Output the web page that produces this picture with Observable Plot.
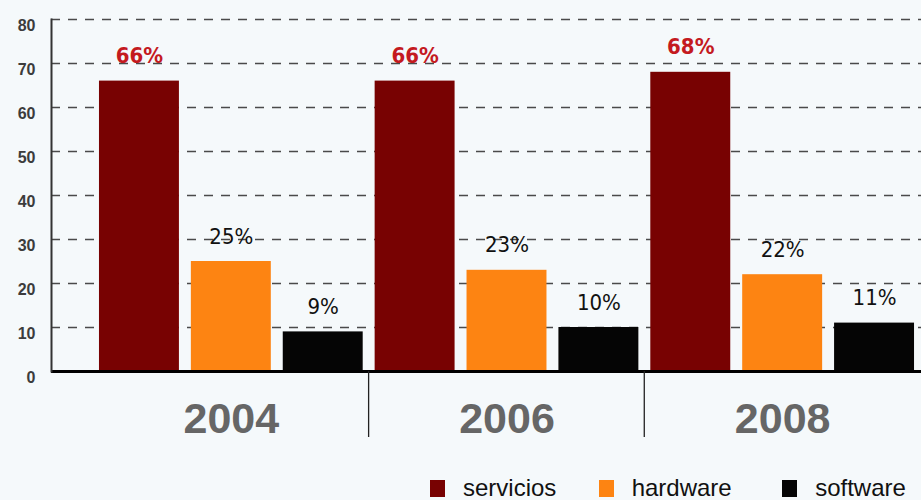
<!DOCTYPE html>
<html><head><meta charset="utf-8">
<script src="https://cdn.jsdelivr.net/npm/d3@7"></script>
<script src="https://cdn.jsdelivr.net/npm/@observablehq/plot@0.6"></script>
<style>
html,body{margin:0;padding:0;background:#f5f9fb;width:921px;height:500px;overflow:hidden;font-family:"Liberation Sans",Arial,sans-serif;}
#chart svg{background:transparent;display:block;}
#legend{display:flex;padding-left:430px;padding-top:16px;height:24px;white-space:nowrap;}
.item{display:flex;align-items:center;font-size:24px;color:#111;line-height:24px;}
.sw{width:15px;height:17px;margin-right:18px;flex:none;}
</style></head><body><div id="chart"></div><div id="legend"></div>
<script>
const years = ["2004", "2006", "2008"];
const categories = ["servicios", "hardware", "software"];
const servicios = [66, 66, 68];
const hardware = [25, 23, 22];
const software = [9, 10, 11];
const yTicks = [0, 10, 20, 30, 40, 50, 60, 70, 80];
const colors = ["#780202", "#fd8412", "#050505"];

const series = {servicios, hardware, software};
const rows = [];
years.forEach((year, i) => {
  categories.forEach(cat => {
    rows.push({key: year + " " + cat, year, cat, value: series[cat][i]});
  });
});
const keys = rows.map(d => d.key);

const chart = Plot.plot({
  width: 921,
  height: 460,
  marginTop: 19,
  marginBottom: 89,
  marginLeft: 51,
  marginRight: 0,
  style: {background: "transparent", fontFamily: "'Liberation Sans', Arial, sans-serif"},
  x: {domain: keys, range: [93, 920], paddingInner: 0.13, paddingOuter: 0.065, round: false, axis: null},
  y: {domain: [0, 80], axis: null},
  color: {domain: categories, range: colors},
  marks: [
    Plot.ruleY(yTicks.filter(t => t > 0), {stroke: "#4a4a4a", strokeWidth: 1.3, strokeDasharray: "9,8"}),
    Plot.barY(rows, {x: "key", y: "value", fill: "cat"}),
    Plot.text(rows.filter(d => d.cat === "servicios"), {
      x: "key", y: "value", text: d => d.value + "%", dy: -25,
      fill: "#c41a1f", fontSize: 22, fontWeight: "bold",
      fontFamily: "'DejaVu Sans Condensed', 'DejaVu Sans', sans-serif"
    }),
    Plot.text(rows.filter(d => d.cat !== "servicios"), {
      x: "key", y: "value", text: d => d.value + "%", dy: -25,
      fill: "#111", fontSize: 22,
      fontFamily: "'DejaVu Sans Condensed', 'DejaVu Sans', sans-serif"
    }),
    Plot.ruleY([0], {stroke: "#000", strokeWidth: 3}),
    Plot.frame({anchor: "left", stroke: "#333", strokeWidth: 2}),
    Plot.ruleX(years.slice(1).map(y => y + " servicios"), {y1: 0, y2: -15, dx: -46.5, stroke: "#222", strokeWidth: 1.3}),
    Plot.text(years, {
      x: d => d + " hardware", y: () => 0, text: d => d, dy: 48,
      fontSize: 43, fontWeight: "bold", fill: "#666"
    }),
    Plot.axisY(yTicks, {label: null, tickSize: 0, tickPadding: 16, dy: 6, fontSize: 16, fontWeight: 600, fill: "#3c3c3c"})
  ]
});
document.getElementById("chart").appendChild(chart);

const legend = document.getElementById("legend");
const widths = [170, 185, 140];
categories.forEach((cat, i) => {
  const item = document.createElement("div");
  item.className = "item";
  item.style.width = widths[i] + "px";
  const sw = document.createElement("span");
  sw.className = "sw";
  sw.style.background = colors[i];
  const label = document.createElement("span");
  label.textContent = cat;
  item.appendChild(sw);
  item.appendChild(label);
  legend.appendChild(item);
});
</script></body></html>
